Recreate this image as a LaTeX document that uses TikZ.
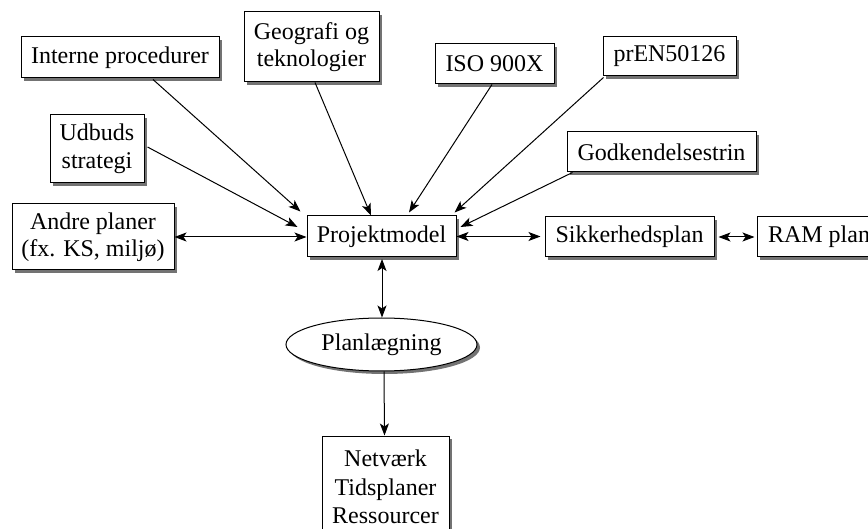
\documentclass[tikz,border=0pt]{standalone}
\usepackage{fontspec}
\setmainfont{Liberation Serif}
\usetikzlibrary{shapes.geometric,shadows,calc,arrows.meta}
\begin{document}
\begin{tikzpicture}[x=1pt,y=-1pt,
  font=\fontsize{24}{27.5}\selectfont,
  shad/.style={drop shadow={shadow xshift=3pt,shadow yshift=-3pt,fill=black!55,opacity=1}},
  bx/.style={draw,line width=1pt,fill=white,inner sep=0pt,align=center,shad},
  ell/.style={ellipse,draw,line width=1pt,fill=white,inner sep=0pt,shad},
  tip/.tip={Stealth[length=12pt,width=9pt,inset=3pt]},
  arr/.style={line width=1pt,-tip},
  darr/.style={line width=1pt,tip-tip}]
\useasboundingbox (0,0) rectangle (868,529);
\node[bx,minimum width=198pt,minimum height=41pt] (interne) at (120,57.5) {Interne procedurer};
\node[bx,minimum width=135pt,minimum height=70pt] (geo) at (311.5,47) {Geografi og\\teknologier};
\node[bx,minimum width=119pt,minimum height=40pt] (iso) at (494.5,64) {ISO 900X};
\node[bx,minimum width=133pt,minimum height=39pt] (pren) at (669.5,56.5) {prEN50126};
\node[bx,minimum width=94pt,minimum height=68pt] (udb) at (97,149) {Udbuds\\strategi};
\node[bx,minimum width=189pt,minimum height=40pt] (godk) at (661.5,152) {Godkendelsestrin};
\node[bx,minimum width=162pt,minimum height=66pt] (andre) at (93,237) {Andre planer\\(fx. KS, miljø)};
\node[bx,minimum width=149pt,minimum height=41pt] (proj) at (381.5,236.5) {Projektmodel};
\node[bx,minimum width=169pt,minimum height=40pt] (sikk) at (629.5,237) {Sikkerhedsplan};
\node[bx,minimum width=124pt,minimum height=40pt] (ram) at (819,237) {RAM plan};
\node[ell,minimum width=191pt,minimum height=53pt] (plan) at (381.5,344.5) {Planlægning};
\node[bx,minimum width=127pt,minimum height=102pt,font=\fontsize{24}{28.5}\selectfont] (netv) at (385.5,487) {Netværk\\Tidsplaner\\Ressourcer};
\draw[arr] ($(interne.south)+(33,1)$) -- ($(proj.north west)+(-6,-4)$);
\draw[arr] ($(udb.east)+(3,-2)$) -- ($(proj.west)+(-9,-9.5)$);
\draw[arr] ($(geo.south)+(3.5,0)$) -- ($(proj.north)+(-10.5,0)$);
\draw[arr] ($(iso.south)+(-2.5,0)$) -- ($(proj.north)+(27.5,-3)$);
\draw[arr] ($(pren.south west)+(1,1)$) -- ($(proj.north east)+(-2,-3)$);
\draw[arr] ($(godk.south west)+(6,0)$) -- ($(proj.east)+(4,-9.5)$);
\draw[darr] (andre.east) -- (andre.east -| proj.west);
\draw[darr] (proj.east) -- ($(proj.east -| sikk.west)+(-4,0)$);
\draw[darr] ($(sikk.east)+(4,0)$) -- ($(sikk.east -| ram.west)+(-2,0)$);
\draw[darr] ($(proj.south)+(0.5,1.5)$) -- ($(plan.north)+(0.5,0)$);
\draw[arr] ([xshift=2.5pt]plan.south) -- ([xshift=-1pt]netv.north);
\end{tikzpicture}
\end{document}
